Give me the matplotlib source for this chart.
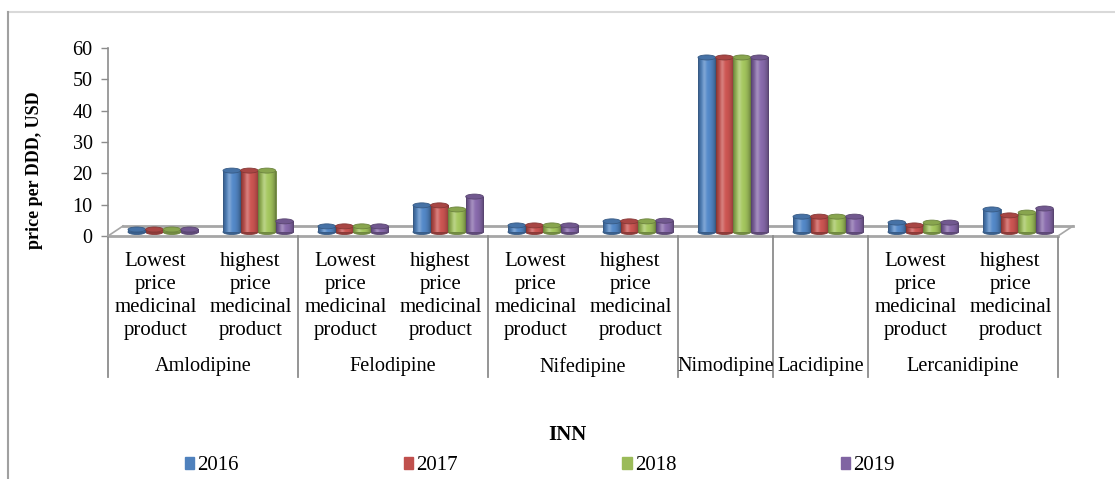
import matplotlib
matplotlib.use('Agg')
import matplotlib.pyplot as plt
import numpy as np
from matplotlib.patches import Ellipse
from matplotlib.lines import Line2D
from matplotlib.transforms import ScaledTranslation, blended_transform_factory
import matplotlib.colors as mcolors

# ---------------- data ----------------
groups = ['Amlodipine', 'Felodipine', 'Nifedipine', 'Nimodipine', 'Lacidipine', 'Lercanidipine']
group_sizes = [2, 2, 2, 1, 1, 2]
sub_labels = ['Lowest\nprice\nmedicinal\nproduct', 'highest\nprice\nmedicinal\nproduct',
              'Lowest\nprice\nmedicinal\nproduct', 'highest\nprice\nmedicinal\nproduct',
              'Lowest\nprice\nmedicinal\nproduct', 'highest\nprice\nmedicinal\nproduct',
              '', '',
              'Lowest\nprice\nmedicinal\nproduct', 'highest\nprice\nmedicinal\nproduct']
years = ['2016', '2017', '2018', '2019']
v2016 = [0.8, 19.6, 1.8, 8.5, 2.1, 3.4, 55.7, 4.9, 3.0, 7.2]
v2017 = [0.8, 19.6, 1.8, 8.5, 2.1, 3.4, 55.7, 4.9, 2.1, 5.3]
v2018 = [0.8, 19.6, 1.8, 7.2, 2.1, 3.4, 55.7, 4.9, 3.0, 6.2]
v2019 = [0.8, 3.4, 1.8, 11.3, 2.1, 3.6, 55.7, 4.9, 3.0, 7.5]
series = [v2016, v2017, v2018, v2019]
colors = ['#4F81BD', '#C0504D', '#9BBB59', '#8064A2']
yticks = [0, 10, 20, 30, 40, 50, 60]

serif = ['Liberation Serif', 'DejaVu Serif']
plt.rcParams['font.family'] = serif

W, H = 1115, 479
fig = plt.figure(figsize=(W / 100, H / 100), dpi=100)
ax_left, ax_right, ax_top, ax_bot = 108, 1058, 48, 236
ax = fig.add_axes([ax_left / W, 1 - ax_bot / H, (ax_right - ax_left) / W, (ax_bot - ax_top) / H])

n = len(sub_labels)
x = np.arange(n)
bw = 0.185
shift = 0.57
bar_off = ax.transData + ScaledTranslation(1 / 100, 4 / 100, fig.dpi_scale_trans)


def cyl_gradient(color, N=64):
    base = np.array(mcolors.to_rgb(color))
    t = np.linspace(0, 1, N)
    shade = 0.62 + 0.45 * np.sin(np.pi * t) ** 0.6
    hl = np.exp(-((t - 0.35) / 0.12) ** 2) * 0.25
    rgb = base[None, :] * shade[:, None]
    rgb = rgb + (1 - rgb) * hl[:, None]
    return np.clip(rgb, 0, 1)[None, :, :]


px_per_unit = (ax_bot - ax_top) / 60.0
cap_h = 5 / px_per_unit
for i, (vals, c) in enumerate(zip(series, colors)):
    rgb = np.array(mcolors.to_rgb(c))
    pos = x + shift + (i - 1.5) * bw
    bars = ax.bar(pos, vals, width=bw, color=c, edgecolor=tuple(rgb * 0.7), linewidth=0.6, zorder=3)
    grad = cyl_gradient(c)
    for b in bars:
        b.set_transform(bar_off)
        x0, w, h = b.get_x(), b.get_width(), b.get_height()
        im = ax.imshow(grad, extent=[x0, x0 + w, 0, h], aspect='auto', zorder=3.5, interpolation='bilinear')
        im.set_transform(bar_off)
        im.set_clip_path(b)
        top = Ellipse((x0 + w / 2, h), w, cap_h, facecolor=tuple(rgb * 0.88),
                      edgecolor=tuple(rgb * 0.7), linewidth=0.6, zorder=4, transform=bar_off)
        ax.add_patch(top)
        bot = Ellipse((x0 + w / 2, 0), w, cap_h, facecolor=tuple(rgb * 0.75),
                      edgecolor=tuple(rgb * 0.7), linewidth=0.6, zorder=2.9, transform=bar_off)
        ax.add_patch(bot)

ax.set_xlim(0, n)
ax.set_ylim(0, 60)
ax.set_yticks(yticks)
ax.set_yticklabels([str(t) for t in yticks], fontsize=14.5)
ax.set_xticks([])
for s in ['top', 'right', 'bottom']:
    ax.spines[s].set_visible(False)
ax.spines['left'].set_color('#8C8C8C')
ax.spines['left'].set_linewidth(1.2)
ax.tick_params(axis='y', length=5, color='#8C8C8C', width=1.0, pad=6)
ax.patch.set_visible(False)

# floor (3D look)
gray = '#A6A6A6'
off = ax.transData + ScaledTranslation(15 / 100, 10 / 100, fig.dpi_scale_trans)
ax.add_line(Line2D([0, n], [0, 0], color=gray, lw=2, zorder=2, clip_on=False))
ax.add_line(Line2D([0, n], [0, 0], color=gray, lw=2, zorder=2, clip_on=False, transform=off))
for xe in (0, n):
    p0 = ax.transData.transform((xe, 0))
    p1 = p0 + np.array([15, 10])
    fig.add_artist(Line2D([p0[0] / W, p1[0] / W], [p0[1] / H, p1[1] / H], color=gray, lw=1.2))

# category table
bt = blended_transform_factory(ax.transData, ax.transAxes)
axh = ax_bot - ax_top
bounds = np.concatenate([[0], np.cumsum(group_sizes)])
for b in bounds:
    ax.add_line(Line2D([b, b], [0, -(377 - ax_bot) / axh], transform=bt, color='#8C8C8C', lw=1.3, clip_on=False))
for i, lab in enumerate(sub_labels):
    if lab:
        ax.text(i + 0.5, -(296 - ax_bot) / axh, lab, transform=bt, ha='center', va='center',
                fontsize=15, linespacing=1.27)
for g, s0, s1 in zip(groups, bounds[:-1], bounds[1:]):
    ax.text((s0 + s1) / 2, -(367 - ax_bot) / axh, g, transform=bt, ha='center', va='center', fontsize=14.6)

# axis titles
fig.text(35 / W, 1 - 170 / H, 'price per DDD, USD', rotation=90, ha='center', va='center',
         fontsize=13, fontweight='bold')
fig.text(567 / W, 1 - 435 / H, 'INN', ha='center', va='center', fontsize=15, fontweight='bold')

# legend
handles = [plt.Rectangle((0, 0), 1, 1, color=c) for c in colors]
fig.legend(handles, years, loc='center', bbox_to_anchor=(540 / W, 1 - 466 / H), ncol=4, frameon=False,
           fontsize=15, handlelength=0.45, handleheight=0.45, handletextpad=0.15, columnspacing=7.9)

# outer border
fig.add_artist(Line2D([8 / W, 1], [1 - 12 / H, 1 - 12 / H], color='#D9D9D9', lw=1.5))
fig.add_artist(Line2D([8 / W, 8 / W], [0, 1 - 12 / H], color='#A0A0A0', lw=1.5))

fig.savefig('out.png', dpi=100)
